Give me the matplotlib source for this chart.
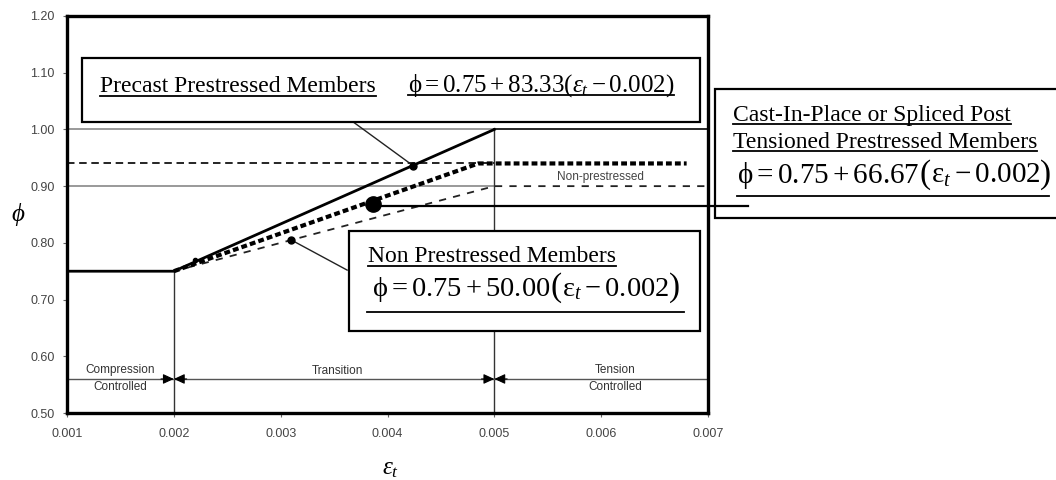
import matplotlib
matplotlib.use("Agg")
import matplotlib.pyplot as plt
import matplotlib.transforms as mtrans
from matplotlib.patches import Rectangle
from matplotlib.lines import Line2D

# ---------------- data ----------------
eps_ticks = [0.001, 0.002, 0.003, 0.004, 0.005, 0.006, 0.007]
phi_ticks = [0.50, 0.60, 0.70, 0.80, 0.90, 1.00, 1.10, 1.20]

eps_precast = [0.001, 0.002, 0.005]
phi_precast = [0.75, 0.75, 1.00]
eps_precast_tc = [0.005, 0.007]
phi_precast_tc = [1.00, 1.00]

eps_cip = [0.002, 0.00485, 0.0068]
phi_cip = [0.75, 0.94, 0.94]

eps_np = [0.002, 0.005, 0.007]
phi_np = [0.75, 0.90, 0.90]

eps_ref = [0.001, 0.005]
phi_ref_dashed = 0.94
phi_grid = [0.90, 1.00]

eps_limits = [0.002, 0.005]
phi_limit_top = [0.75, 1.00]
phi_zone = 0.56

zone_labels = ["Compression\nControlled", "Transition", "Tension\nControlled"]
zone_eps = [0.0015, 0.00353, 0.00613]

dot_precast = (0.00424, 0.936)
dot_np = (0.0031, 0.805)
dot_cip = (0.00386, 0.868)
dot_start = (0.0022, 0.77)

# ---------------- setup ----------------
W, H = 1056, 480
plt.rcParams.update({
    "font.family": ["Liberation Sans", "DejaVu Sans"],
    "mathtext.fontset": "custom",
    "mathtext.rm": "Liberation Serif",
    "mathtext.it": "Liberation Serif:italic",
    "mathtext.bf": "Liberation Serif:bold",
    "mathtext.default": "rm",
})

fig = plt.figure(figsize=(W / 100, H / 100), dpi=100)
PX = mtrans.Affine2D().scale(1 / W, -1 / H).translate(0, 1) + fig.transFigure
R = fig.canvas.get_renderer()

ax = fig.add_axes([67 / W, 1 - 413 / H, 641 / W, 397 / H])
ax.set_xlim(eps_ticks[0], eps_ticks[-1])
ax.set_ylim(phi_ticks[0], phi_ticks[-1])
ax.set_xticks(eps_ticks)
ax.set_xticklabels([f"{v:.3f}" for v in eps_ticks])
ax.set_yticks(phi_ticks)
ax.set_yticklabels([f"{v:.2f}" for v in phi_ticks])
ax.tick_params(direction="out", length=3, width=0.8, color="#666666",
               labelsize=9, labelcolor="#444444")
ax.tick_params(axis="x", pad=8)
ax.tick_params(axis="y", pad=6)
for s in ax.spines.values():
    s.set_linewidth(2.4)
    s.set_color("black")

# grid-ish reference lines
for p in phi_grid:
    ax.plot(eps_ref, [p, p], color="#888888", lw=1.2, zorder=1)
ax.plot(eps_ref, [phi_ref_dashed] * 2, color="black", lw=1.2,
        ls=(0, (4.5, 2.8)), zorder=2)

# main curves
ax.plot(eps_precast, phi_precast, color="black", lw=2.0, zorder=3,
        solid_joinstyle="miter")
ax.plot(eps_precast_tc, phi_precast_tc, color="black", lw=1.2, zorder=3)
ax.plot(eps_np, phi_np, color="#222222", lw=1.3, ls=(0, (4.0, 4.0)), zorder=3)
ax.plot(eps_cip, phi_cip, color="black", lw=3.0, ls=(0, (1.4, 0.75)), zorder=3)

# limit verticals and zone line
for e, top in zip(eps_limits, phi_limit_top):
    ax.plot([e, e], [phi_ticks[0], top], color="#333333", lw=1.0, zorder=2)
ax.plot([eps_ticks[0], eps_ticks[-1]], [phi_zone] * 2, color="#555555", lw=1.0, zorder=2)

# arrowheads at the limits
d = 0.00012
for e in eps_limits:
    for sgn in (-1, 1):
        ax.annotate("", xy=(e, phi_zone), xytext=(e + sgn * d, phi_zone),
                    arrowprops=dict(arrowstyle="-|>,head_length=0.65,head_width=0.3",
                                    color="black", lw=0.8, shrinkA=0, shrinkB=0),
                    zorder=4)

# zone labels
ax.text(zone_eps[0], phi_zone, zone_labels[0], ha="center", va="center",
        fontsize=8.5, color="#333333", linespacing=1.55, zorder=4)
ax.text(zone_eps[1], 0.574, zone_labels[1], ha="center", va="center",
        fontsize=8.5, color="#333333", zorder=4)
ax.text(zone_eps[2], phi_zone, zone_labels[2], ha="center", va="center",
        fontsize=8.5, color="#333333", linespacing=1.55, zorder=4)
ax.text(0.00599, 0.916, "Non-prestressed", ha="center", va="center",
        fontsize=8.5, color="#444444", zorder=4)
ax.text(0.00599, 1.016, "Prestressed", ha="center", va="center",
        fontsize=8.5, color="#444444", zorder=2)

# dots
ax.plot(*dot_precast, "o", color="black", ms=5, zorder=6)
ax.plot(*dot_np, "o", color="black", ms=5, zorder=6)
ax.plot(*dot_cip, "o", color="black", ms=11, zorder=6)
ax.plot(*dot_start, "o", color="black", ms=3, zorder=6)

# leader lines
ax.plot([0.00368, dot_precast[0]], [1.013, dot_precast[1]], color="#222222", lw=1.0, zorder=4)
ax.plot([dot_np[0], 0.003622], [dot_np[1], 0.752], color="#222222", lw=1.0, zorder=4)
ax.plot([dot_cip[0], 0.007376], [0.865, 0.865], color="black", lw=1.6,
        zorder=8, clip_on=False)

# boxes (pixel layout)
def box(x0, y0, x1, y1):
    r = Rectangle((x0, y1), x1 - x0, y0 - y1, transform=PX, facecolor="white",
                  edgecolor="black", lw=1.6, zorder=5, clip_on=False)
    ax.add_patch(r)

box(82, 58, 700, 122)
box(349, 231, 700, 331)
box(715, 89, 1075, 218)

SERIF = ["Liberation Serif", "DejaVu Serif"]


def underline(x0, x1, y):
    ax.add_line(Line2D([x0, x1], [y, y], transform=PX, color="black", lw=1.3,
                       zorder=7, clip_on=False))


def chain(x, y, parts, uly, pad=(0, 0)):
    """Place text pieces one after another on a common baseline (pixels)."""
    start = None
    for s, size, dy in parts:
        t = ax.text(x, y + dy, s, transform=PX, fontsize=size, family=SERIF,
                    ha="left", va="baseline", zorder=7, clip_on=False)
        bb = t.get_window_extent(renderer=R)
        if start is None:
            start = bb.x0
        x = bb.x1
    underline(start - pad[0], x + pad[1], uly)


chain(100, 92, [("Precast Prestressed Members", 17, 0)], 95.5)
chain(408, 92, [(r"$ϕ = 0.75 + 83.33(\mathit{ε}_{\mathit{t}} - 0.002)$", 18, 0)], 94.5)

chain(733, 121, [("Cast-In-Place or Spliced Post", 17, 0)], 123.5)
chain(733, 148, [("Tensioned Prestressed Members", 17, 0)], 151)
chain(737, 183, [(r"$ϕ = 0.75 + 66.67$", 21, 0), ("(", 24, 0),
                 (r"$ε_{\mathit{t}} - 0.002$", 21, 0), (")", 24, 0)], 196, pad=(0, -2))

chain(368, 262, [("Non Prestressed Members", 17, 0)], 266)
chain(372, 296, [(r"$ϕ = 0.75 + 50.00$", 20.5, 0), ("(", 24, 0),
                 (r"$ε_{\mathit{t}} - 0.002$", 20.5, 0), (")", 24, 0)], 312, pad=(5, 4))

# axis labels
ax.text(18, 215, r"$\mathit{ϕ}$", transform=PX, fontsize=18, ha="center", va="center",
        clip_on=False)
ax.text(391, 468, r"$\mathit{ε}_{\mathit{t}}$", transform=PX, fontsize=18, ha="center",
        va="center", clip_on=False)

fig.savefig("out.png", dpi=100)
